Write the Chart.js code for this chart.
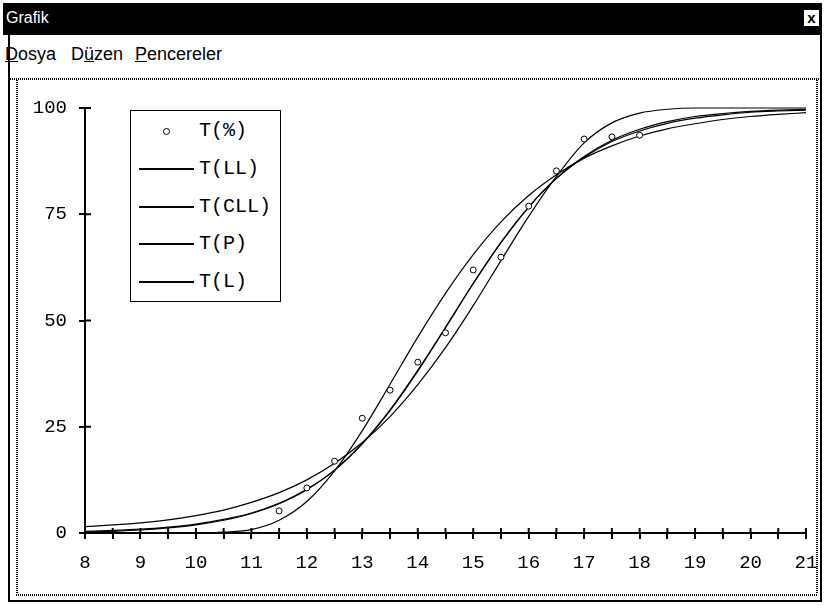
<!DOCTYPE html>
<html><head><meta charset="utf-8">
<script src="https://cdn.jsdelivr.net/npm/chart.js@4.4.1/dist/chart.umd.min.js"></script>
<style>
html,body{margin:0;padding:0;background:#fff;}
#win{position:absolute;left:0;top:0;width:825px;height:605px;background:#fff;overflow:hidden;}
#titlebar{position:absolute;left:3px;top:3px;width:819px;height:32px;background:#000;}
#title{position:absolute;left:3px;top:6px;color:#fff;font:16px "Liberation Sans Narrow","Liberation Sans",Arial,sans-serif;}
#close{position:absolute;left:800px;top:6px;width:15px;height:16px;background:#fff;border:1px solid #000;color:#000;font:bold 15px "Liberation Sans",Arial,sans-serif;line-height:15px;text-align:center;}
#menu{position:absolute;left:5px;top:44px;font:18px "Liberation Sans Narrow","Liberation Sans",Arial,sans-serif;color:#000;white-space:nowrap;}
#menu span{position:absolute;top:0;}
.lb{position:absolute;background:#000;}
.dot{position:absolute;background-image:repeating-linear-gradient(90deg,#000 0 1px,#fff 1px 2px);}
.dotv{position:absolute;background-image:repeating-linear-gradient(0deg,#000 0 1px,#fff 1px 2px);}
#cv{position:absolute;left:20px;top:82px;width:805px;height:510px;}
#legend{position:absolute;left:130px;top:110px;width:149px;height:190px;border:1px solid #000;background:#fff;font:20px "Liberation Mono","DejaVu Sans Mono",monospace;color:#000;}
.li{position:absolute;left:0;height:24px;line-height:24px;white-space:nowrap;}
.ls{position:absolute;left:8px;top:11px;width:55px;height:0;border-top:2px solid #000;}
.lm{position:absolute;left:32px;top:9px;width:5px;height:5px;border:1px solid #000;border-radius:50%;background:#fff;}
.lt{position:absolute;left:68px;top:0;}
</style>
</head><body>
<div id="win">
  <div class="lb" style="left:8px;top:35px;width:2px;height:567px;"></div>
  <div class="lb" style="left:820px;top:35px;width:2px;height:567px;"></div>
  <div class="lb" style="left:8px;top:600px;width:814px;height:2px;"></div>
  <div id="titlebar"><div id="title">Grafik</div><div id="close">x</div></div>
  <div id="menu"><span style="left:0"><u>D</u>osya</span><span style="left:66px">D<u>ü</u>zen</span><span style="left:130px"><u>P</u>encereler</span></div>
  <div class="dot" style="left:10px;top:78px;width:810px;height:2px;"></div>
  <div class="dotv" style="left:16px;top:80px;width:2px;height:515px;"></div>
  <div class="dotv" style="left:816px;top:80px;width:2px;height:515px;"></div>
  <div class="dot" style="left:16px;top:594px;width:802px;height:2px;"></div>
  <canvas id="cv" width="805" height="510"></canvas>
  <div id="legend"></div>
</div>
<script>
// ---- data ----
const xValues = [8,8.5,9,9.5,10,10.5,11,11.5,12,12.5,13,13.5,14,14.5,15,15.5,16,16.5,17,17.5,18,18.5,19,19.5,20,20.5,21];
const obsX = [11.5,12,12.5,13,13.5,14,14.5,15,15.5,16,16.5,17,17.5,18];
const obsT = [5.2,10.6,16.9,27.0,33.6,40.2,47.1,61.9,64.9,76.9,85.2,92.7,93.2,93.6];
const tLL  = [0,0,0,0,0,0.2,0.8,3.0,7.4,14.6,24.1,35.0,46.1,56.4,65.5,73.2,79.4,84.3,88.2,91.1,93.4,95.1,96.3,97.3,98.0,98.5,98.9];
const tCLL = [1.5,1.9,2.4,3.1,4.1,5.4,7.2,9.5,12.5,16.4,21.3,27.4,34.9,43.6,53.5,64.1,74.5,83.9,91.8,96.5,98.8,99.7,100,100,100,100,100];
const tP   = [0.2,0.4,0.7,1.2,1.9,3.0,4.6,6.9,10.2,14.8,21.1,29.0,38.3,48.4,58.7,68.3,76.7,83.5,88.6,92.4,95.0,96.8,98.0,98.7,99.2,99.5,99.7];
const tL   = [0.4,0.6,0.9,1.4,2.1,3.2,4.7,7.0,10.3,14.8,21.0,28.8,38.1,48.3,58.7,68.4,76.7,83.4,88.4,92.1,94.6,96.4,97.6,98.4,99.0,99.3,99.5];
const seriesLabels = ['T(%)','T(LL)','T(CLL)','T(P)','T(L)'];
const yTicks = [0,25,50,75,100];

const pts = (xs, ys) => xs.map((x,i)=>({x:x, y:ys[i]}));
const lineDs = (label, ys) => ({label, data: pts(xValues, ys), borderColor:'#000', borderWidth:1.2,
  pointRadius:0, fill:false, cubicInterpolationMode:'monotone', clip:false, showLine:true});

const crossTicks = {
  id:'crossTicks',
  afterDatasetsDraw(chart){
    const {ctx, scales:{x, y}} = chart;
    ctx.save();
    ctx.strokeStyle = '#000'; ctx.lineWidth = 2;
    const yb = y.getPixelForValue(0), xl = x.getPixelForValue(8);
    ctx.beginPath();
    x.ticks.forEach(t => { const px = x.getPixelForValue(t.value); ctx.moveTo(px, yb); ctx.lineTo(px, yb-5); });
    y.ticks.forEach(t => { const py = y.getPixelForValue(t.value); ctx.moveTo(xl, py); ctx.lineTo(xl+6, py); });
    ctx.stroke();
    ctx.restore();
  }
};

const chart = new Chart(document.getElementById('cv'), {
  type:'line',
  data:{ datasets:[
    {label:seriesLabels[0], data: pts(obsX, obsT), showLine:false, pointRadius:3, pointHoverRadius:3,
     pointBorderWidth:1, borderColor:'#000', backgroundColor:'#fff', pointStyle:'circle'},
    lineDs(seriesLabels[1], tLL),
    lineDs(seriesLabels[2], tCLL),
    lineDs(seriesLabels[3], tP),
    lineDs(seriesLabels[4], tL)
  ]},
  options:{
    responsive:false, animation:false, devicePixelRatio:1,
    layout:{padding:{top:26, right:19, left:0, bottom:0}},
    plugins:{legend:{display:false}, tooltip:{enabled:false}},
    scales:{
      x:{type:'linear', min:8, max:21,
        grid:{display:true, drawOnChartArea:false, drawTicks:true, tickLength:6, lineWidth:2, color:'#000'},
        border:{display:true, color:'#000', width:2},
        ticks:{stepSize:0.5, autoSkip:false, maxRotation:0, padding:13, color:'#000',
          font:{family:'"Liberation Mono", monospace', size:19},
          callback:(v)=> Number.isInteger(v) ? String(v) : ''},
        afterFit:(s)=>{ s.height = 59; s.paddingRight = 0; s.paddingLeft = 0; }
      },
      y:{type:'linear', min:0, max:100,
        afterBuildTicks:(s)=>{ s.ticks = yTicks.map(v=>({value:v})); },
        grid:{display:true, drawOnChartArea:false, drawTicks:true, tickLength:6, lineWidth:2, color:'#000'},
        border:{display:true, color:'#000', width:2},
        ticks:{padding:12, color:'#000', font:{family:'"Liberation Mono", monospace', size:19}},
        afterFit:(s)=>{ s.width = 65; }
      }
    }
  },
  plugins:[crossTicks]
});

// HTML legend built from the chart's datasets
const leg = document.getElementById('legend');
chart.data.datasets.forEach((ds, i) => {
  const row = document.createElement('div');
  row.className = 'li';
  row.style.top = (8 + i*37.8) + 'px';
  row.style.width = '149px';
  const sample = document.createElement('div');
  sample.className = ds.showLine === false ? 'lm' : 'ls';
  const txt = document.createElement('span');
  txt.className = 'lt'; txt.textContent = ds.label;
  row.appendChild(sample); row.appendChild(txt);
  leg.appendChild(row);
});
</script>
</body></html>
